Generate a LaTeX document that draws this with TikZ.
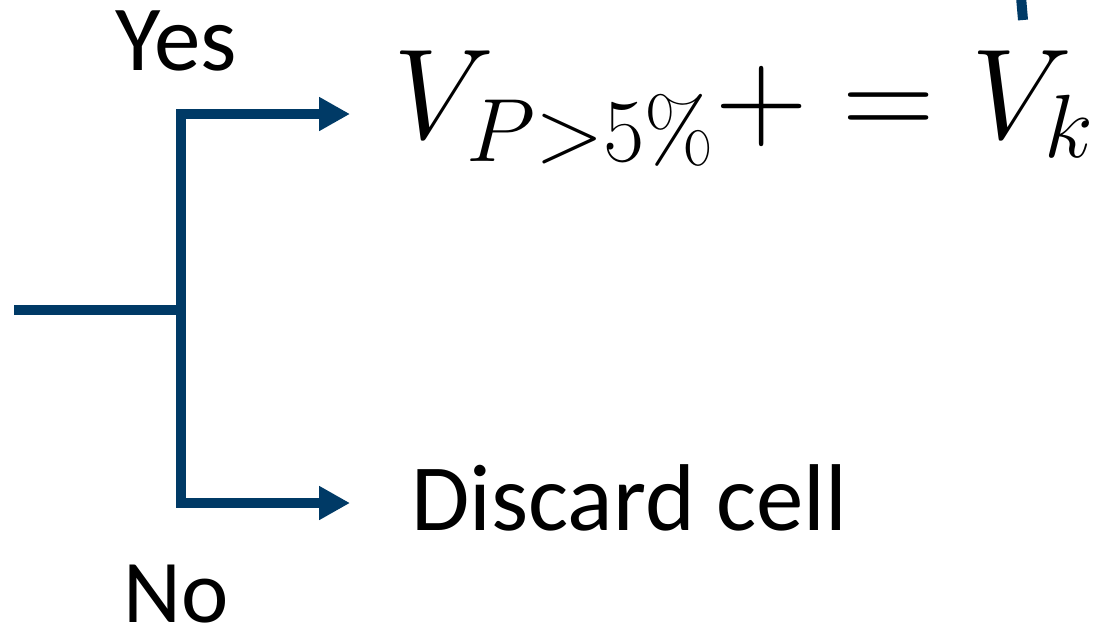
\documentclass[tikz,border=0pt]{standalone}
\usepackage{fix-cm}
\usepackage[no-math]{fontspec}
\setmainfont{Carlito}
\usetikzlibrary{arrows.meta}
\definecolor{branchblue}{RGB}{0,58,102}
\tikzset{
    branch/.style={line width=5.7pt, draw=branchblue},
    label/.style={inner sep=0pt, font=\fontsize{53}{58}\selectfont},
}
\begin{document}
\begin{tikzpicture}[x=0.02cm, y=-0.02cm]
    \useasboundingbox (0,0) rectangle (1101,630);
    \coordinate (in) at (14, 310);
    \coordinate (fork) at (181, 310);
    \coordinate (top) at (181, 114);
    \coordinate (bot) at (181, 503);
    \node[label, anchor=base west] (update) at (393, 138) {\fontsize{73}{80}\selectfont $V_{P>5\%}+=V_k$};
    \node[label, anchor=base west, font=\fontsize{54}{59}\selectfont] (discard) at (411, 530) {Discard cell};
    \coordinate (uptip) at (350, 114);
    \coordinate (dntip) at (350, 503);
    \draw[branch] (in) -- (fork);
    \draw[branch, -{Triangle[length=17.6pt, width=18.2pt]}] (bot) -- (top) -- (uptip);
    \draw[branch, -{Triangle[length=17.6pt, width=18.2pt]}] (top) -- (bot) -- (dntip);
    \draw[branch] (1021, -3) -- (1023, 20);
    \node[label, anchor=base] (yes) at (176, 70) {Yes};
    \node[label, anchor=base, font=\fontsize{51}{56}\selectfont] (no) at (176, 622) {No};
\end{tikzpicture}
\end{document}
